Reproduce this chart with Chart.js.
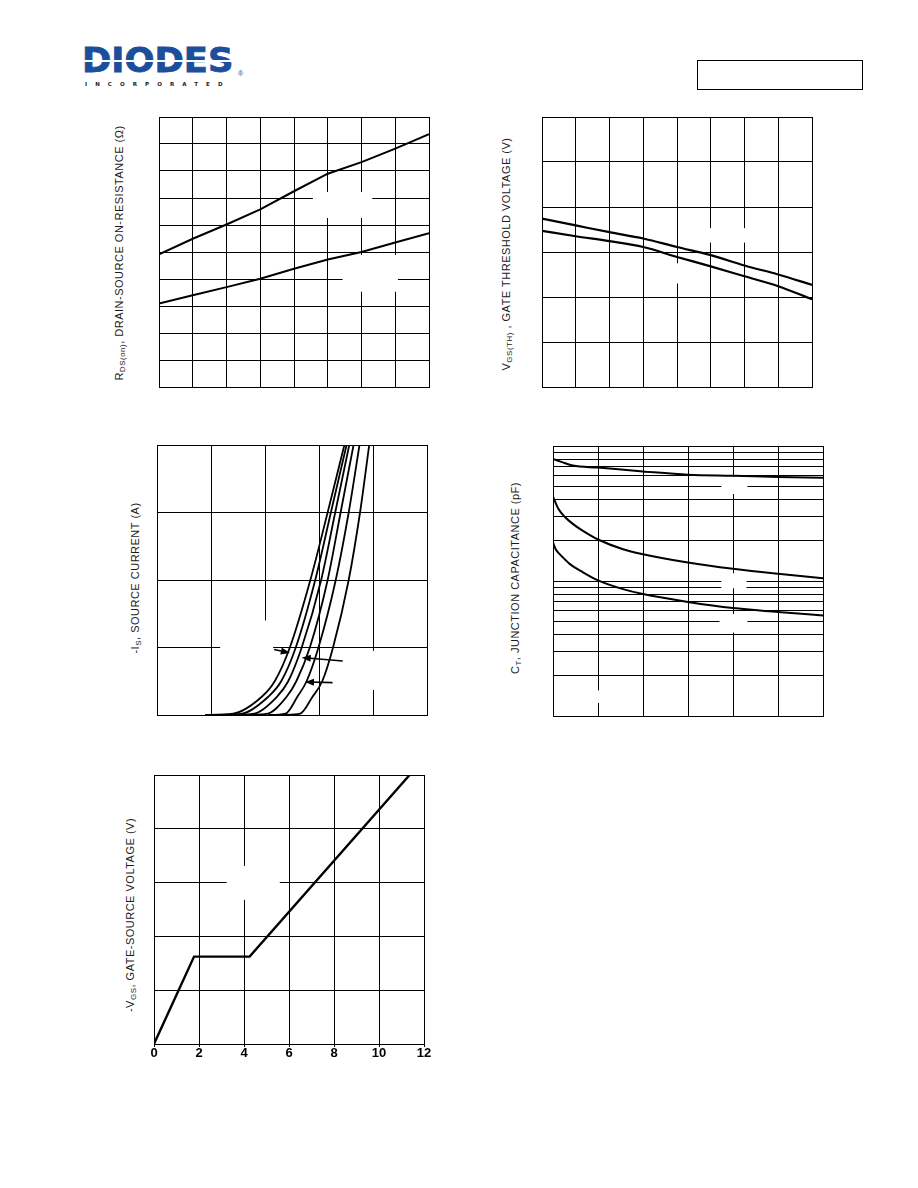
<!DOCTYPE html>
<html><head><meta charset="utf-8">
<script src="https://cdn.jsdelivr.net/npm/chart.js@4/dist/chart.umd.min.js"></script>
<style>
html,body{margin:0;padding:0;background:#fff;}
#page{position:relative;width:918px;height:1188px;overflow:hidden;background:#fff;font-family:"Liberation Sans",Arial,sans-serif;}
canvas{position:absolute;}
.ytitle{position:absolute;white-space:nowrap;font-size:11px;color:#1a1a1a;transform:translate(-50%,-50%) rotate(-90deg);letter-spacing:0.5px;line-height:12px;}
.ytitle sub{font-size:8px;vertical-align:-2px;line-height:0;}
</style></head>
<body><div id="page">
<div style="position:absolute;left:82px;top:43.5px;font-family:'DejaVu Sans';font-weight:bold;font-size:33px;line-height:33px;color:#1b4e9b;-webkit-text-stroke:0.8px #1b4e9b;transform:scaleX(1.07);transform-origin:0 0;">DIODES</div>
<div style="position:absolute;left:84px;top:60px;width:156px;height:1.5px;background:#fff;"></div>
<div style="position:absolute;left:238px;top:70px;font-size:7px;line-height:8px;color:#1b4e9b;">®</div>
<div style="position:absolute;left:85px;top:81px;font-family:'DejaVu Sans';font-weight:bold;font-size:5.5px;line-height:6px;letter-spacing:8.1px;color:#222;">INCORPORATED</div>
<div style="position:absolute;left:697px;top:60px;width:166px;height:30px;box-sizing:border-box;border:1.5px solid #000;"></div>

<div class="ytitle" style="left:119px;top:253px;">R<sub>DS(on)</sub>, DRAIN-SOURCE ON-RESISTANCE (Ω)</div>
<div class="ytitle" style="left:506px;top:254px;">V<sub>GS(TH)</sub> , GATE THRESHOLD VOLTAGE (V)</div>
<div class="ytitle" style="left:135px;top:578px;">-I<sub>S</sub>, SOURCE CURRENT (A)</div>
<div class="ytitle" style="left:515px;top:578px;">C<sub>T</sub>, JUNCTION CAPACITANCE (pF)</div>
<div class="ytitle" style="left:130px;top:915px;">-V<sub>GS</sub>, GATE-SOURCE VOLTAGE (V)</div>

<canvas id="c1" width="276" height="276" style="left:156px;top:114px;"></canvas>
<canvas id="c2" width="276" height="276" style="left:539px;top:114px;"></canvas>
<canvas id="c3" width="276" height="276" style="left:154px;top:442px;"></canvas>
<canvas id="c4" width="276" height="276" style="left:550px;top:443px;"></canvas>
<canvas id="c5" width="298" height="292" style="left:140px;top:772px;"></canvas>
</div>
<script>
// ---------- DATA ----------
// Chart 1: RDS(on) vs temperature (grid units on y, labels redacted)
const c1Temp = [-50, -25, 0, 25, 50, 75, 100, 125, 150];
const c1RdsUpper = [4.91, 5.49, 6.02, 6.58, 7.25, 7.90, 8.33, 8.83, 9.36];
const c1RdsLower = [3.09, 3.40, 3.70, 4.01, 4.38, 4.72, 5.00, 5.35, 5.70];
const c1XTicks = [-50, -25, 0, 25, 50, 75, 100, 125, 150];
const c1YTicks = [0, 1, 2, 3, 4, 5, 6, 7, 8, 9, 10];

// Chart 2: VGS(th) vs temperature
const c2Temp = [-50, -25, 0, 25, 50, 75, 100, 125, 150];
const c2VthUpper = [3.74, 3.59, 3.44, 3.30, 3.11, 2.93, 2.70, 2.50, 2.27];
const c2VthLower = [3.47, 3.35, 3.24, 3.11, 2.89, 2.68, 2.46, 2.24, 1.95];
const c2XTicks = [-50, -25, 0, 25, 50, 75, 100, 125, 150];
const c2YTicks = [0, 1, 2, 3, 4, 5, 6];

// Chart 3: -IS vs -VSD (six curves, grid units)
const c3Current = [0, 0.02, 0.27, 0.5, 1, 2, 3, 4];
const c3Vsd1 = [0.89, 1.41, 1.94, 2.18, 2.46, 2.84, 3.16, 3.47];
const c3Vsd2 = [1.15, 1.58, 2.06, 2.30, 2.57, 2.93, 3.22, 3.51];
const c3Vsd3 = [1.40, 1.80, 2.22, 2.43, 2.68, 3.04, 3.30, 3.56];
const c3Vsd4 = [1.70, 2.05, 2.40, 2.58, 2.83, 3.16, 3.40, 3.64];
const c3Vsd5 = [2.05, 2.38, 2.60, 2.77, 2.99, 3.31, 3.55, 3.75];
const c3Vsd6 = [2.35, 2.65, 2.88, 3.06, 3.26, 3.55, 3.76, 3.93];
const c3XTicks = [0, 1, 2, 3, 4, 5];
const c3YTicks = [0, 1, 2, 3, 4];

// Chart 4: capacitance vs VDS (pF, log)
const c4CissV = [0, 1, 2.2, 5, 10, 15, 20, 25, 30];
const c4Ciss = [801, 760, 716, 692, 648, 612, 602, 590, 581];
const c4CossV = [0, 0.56, 1.3, 2.2, 3.33, 5, 7.78, 10, 15, 20, 25, 30];
const c4Coss = [421, 346, 299, 265, 235, 203, 172, 158, 137, 123, 113, 105];
const c4CrssV = [0, 0.3, 0.74, 1.3, 1.85, 3.33, 5, 7.78, 10, 15, 20, 25, 30];
const c4Crss = [193, 172, 158, 145, 134, 116, 101, 87, 80, 70, 63, 59, 55.5];
const c4XTicks = [0, 5, 10, 15, 20, 25, 30];
const c4YTicks = [10, 20, 30, 40, 50, 60, 70, 80, 90, 100, 200, 300, 400, 500, 600, 700, 800, 900, 1000];

// Chart 5: gate charge
const c5Charge = [0, 1.78, 4.25, 11.36];
const c5Vgs = [0, 3.25, 3.25, 10];
const c5XTicks = [0, 2, 4, 6, 8, 10, 12];
const c5YTicks = [0, 2, 4, 6, 8, 10];

// ---------- annotations (data units) ----------
const c1Masks = [[64, 6.26, 108, 7.22], [86, 3.53, 127, 4.89]];
const c2Masks = [[67, 3.21, 108, 3.53], [44, 2.30, 55.5, 2.75]];
const c3Masks = [[1.17, 0.03, 2.15, 1.40], [3.8, 0.37, 4.3, 0.95]];
const c4Masks = [[18.7, 441, 21.6, 589], [18.7, 88.3, 21.5, 114], [18.5, 41.5, 21.6, 57], [4.2, 12.5, 5.8, 15.5]];
const c5Masks = [[3.23, 5.36, 5.59, 6.62]];
const c3Arrows = [
  {tail: [2.17, 0.97], tip: [2.46, 0.92]},
  {tail: [3.44, 0.80], tip: [2.68, 0.85]},
  {tail: [3.25, 0.48], tip: [2.74, 0.49]}
];

// ---------- helpers ----------
Chart.defaults.font.family = "'Liberation Sans', Arial, sans-serif";
function pts(xs, ys) { return xs.map((x, i) => ({x: x, y: ys[i]})); }
function setTicks(arr) { return (scale) => { scale.ticks = arr.map(v => ({value: v})); }; }
function axis(min, max, tickArr, extra) {
  return Object.assign({
    type: 'linear', min: min, max: max, afterBuildTicks: setTicks(tickArr),
    grid: {color: '#000', lineWidth: 1, drawTicks: false},
    border: {color: '#000', width: 1},
    ticks: {display: false, autoSkip: false}
  }, extra || {});
}
function line(data, extra) {
  return Object.assign({data: data, borderColor: '#000', borderWidth: 2, pointRadius: 0, fill: false, tension: 0}, extra || {});
}
function maskPlugin(boxes) {
  return {id: 'masks', beforeDatasetsDraw(chart) {
    const ctx = chart.ctx, x = chart.scales.x, y = chart.scales.y;
    ctx.save(); ctx.fillStyle = '#fff';
    boxes.forEach(b => {
      const x1 = x.getPixelForValue(b[0]), x2 = x.getPixelForValue(b[2]);
      const y1 = y.getPixelForValue(b[1]), y2 = y.getPixelForValue(b[3]);
      ctx.fillRect(Math.min(x1, x2), Math.min(y1, y2), Math.abs(x2 - x1), Math.abs(y2 - y1));
    });
    ctx.restore();
  }};
}
function arrowPlugin(arrows) {
  return {id: 'arrows', afterDatasetsDraw(chart) {
    const ctx = chart.ctx, x = chart.scales.x, y = chart.scales.y;
    ctx.save(); ctx.strokeStyle = '#000'; ctx.fillStyle = '#000'; ctx.lineWidth = 1.6;
    arrows.forEach(a => {
      const tx = x.getPixelForValue(a.tail[0]), ty = y.getPixelForValue(a.tail[1]);
      const hx = x.getPixelForValue(a.tip[0]), hy = y.getPixelForValue(a.tip[1]);
      const ang = Math.atan2(hy - ty, hx - tx), L = 9, W = 3.5;
      const c = Math.cos(ang), s = Math.sin(ang);
      ctx.beginPath(); ctx.moveTo(tx, ty); ctx.lineTo(hx - L * c * 0.6, hy - L * s * 0.6); ctx.stroke();
      ctx.beginPath(); ctx.moveTo(hx, hy);
      ctx.lineTo(hx - L * c + W * s, hy - L * s - W * c);
      ctx.lineTo(hx - L * c - W * s, hy - L * s + W * c);
      ctx.closePath(); ctx.fill();
    });
    ctx.restore();
  }};
}
function baseOptions(scales, padding) {
  return {
    responsive: false, animation: false, events: [],
    layout: {padding: padding},
    plugins: {legend: {display: false}, tooltip: {enabled: false}, title: {display: false}},
    scales: scales
  };
}

// ---------- Chart 1 ----------
new Chart(document.getElementById('c1'), {
  type: 'line',
  data: {datasets: [line(pts(c1Temp, c1RdsUpper)), line(pts(c1Temp, c1RdsLower))]},
  options: baseOptions({x: axis(-50, 150, c1XTicks), y: axis(0, 10, c1YTicks)}, 3),
  plugins: [maskPlugin(c1Masks)]
});

// ---------- Chart 2 ----------
new Chart(document.getElementById('c2'), {
  type: 'line',
  data: {datasets: [
    line(pts(c2Temp, c2VthUpper), {borderWidth: 2.2, cubicInterpolationMode: 'monotone'}),
    line(pts(c2Temp, c2VthLower), {borderWidth: 2.2, cubicInterpolationMode: 'monotone'})
  ]},
  options: baseOptions({x: axis(-50, 150, c2XTicks), y: axis(0, 6, c2YTicks)}, 3),
  plugins: [maskPlugin(c2Masks)]
});

// ---------- Chart 3 ----------
const c3Sets = [c3Vsd1, c3Vsd2, c3Vsd3, c3Vsd4, c3Vsd5, c3Vsd6].map(v =>
  line(pts(v, c3Current), {cubicInterpolationMode: 'monotone', borderWidth: 1.8}));
new Chart(document.getElementById('c3'), {
  type: 'line',
  data: {datasets: c3Sets},
  options: baseOptions({x: axis(0, 5, c3XTicks), y: axis(0, 4, c3YTicks)}, 3),
  plugins: [maskPlugin(c3Masks), arrowPlugin(c3Arrows)]
});

// ---------- Chart 4 ----------
new Chart(document.getElementById('c4'), {
  type: 'line',
  data: {datasets: [
    line(pts(c4CissV, c4Ciss), {cubicInterpolationMode: 'monotone'}),
    line(pts(c4CossV, c4Coss), {cubicInterpolationMode: 'monotone'}),
    line(pts(c4CrssV, c4Crss), {cubicInterpolationMode: 'monotone'})
  ]},
  options: baseOptions({x: axis(0, 30, c4XTicks), y: axis(10, 1000, c4YTicks, {type: 'logarithmic'})}, 3),
  plugins: [maskPlugin(c4Masks)]
});

// ---------- Chart 5 ----------
new Chart(document.getElementById('c5'), {
  type: 'line',
  data: {datasets: [line(pts(c5Charge, c5Vgs), {borderWidth: 2.4})]},
  options: baseOptions({
    x: axis(0, 12, c5XTicks, {
      grid: {color: '#000', lineWidth: 1, drawTicks: true, tickLength: 3},
      ticks: {display: true, autoSkip: false, maxRotation: 0, padding: 0, color: '#000',
              font: {size: 13, weight: 'bold', lineHeight: 1}},
      afterFit: (s) => { s.height = 20; }
    }),
    y: axis(0, 10, c5YTicks)
  }, {top: 3, left: 14, right: 14, bottom: 0}),
  plugins: [maskPlugin(c5Masks)]
});
</script>
</body></html>
